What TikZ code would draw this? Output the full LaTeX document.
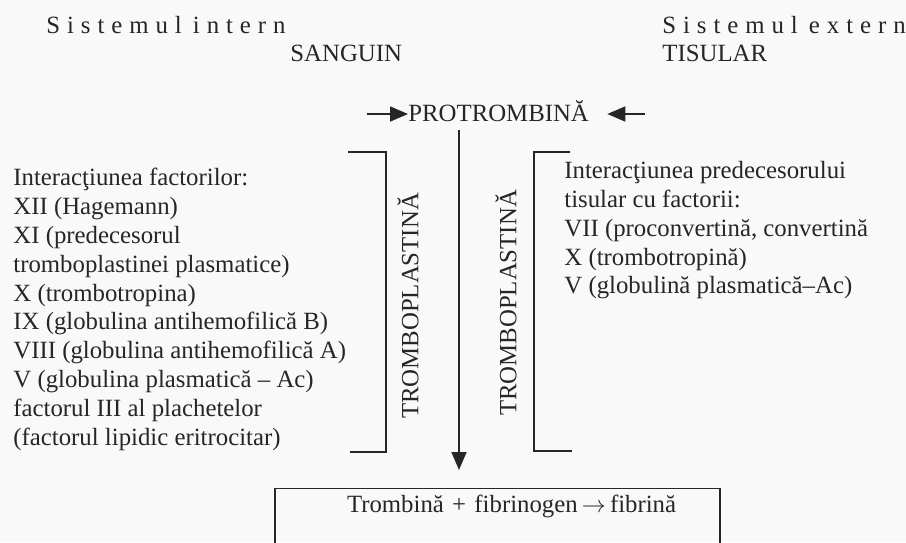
\documentclass[tikz,border=0pt]{standalone}
\usepackage{fontspec}
\setmainfont{Liberation Serif}
\newfontfamily\spacedfont[LetterSpace=28]{Liberation Serif}
\usetikzlibrary{arrows.meta}

\begin{document}
\begin{tikzpicture}[x=0.5pt, y=-0.5pt,
    font=\fontsize{12.4}{14.4}\selectfont,
    txt/.style={inner sep=0pt, align=left, text=black!85},
    arr/.style={line width=0.8pt, draw=black!85, -{Triangle[length=9pt,width=7.5pt]}},
    brk/.style={line width=0.7pt, draw=black!85}]
\fill[gray!5] (0,0) rectangle (906,542);
\useasboundingbox (0,0) rectangle (906,542);
% headers
\node[txt, anchor=base west] (sistint) at (46,33) {\spacedfont Sistemul\hspace{0.45em}intern};
\node[txt, anchor=base west] (sistext) at (662,33) {\spacedfont Sistemul\hspace{0.45em}extern};
\node[txt, anchor=base west] (sanguin) at (290,61) {SANGUIN};
\node[txt, anchor=base west] (tisular) at (662,61) {TISULAR};
\node[txt, anchor=base west] (protromb) at (408,121) {PROTROMBINĂ};
% left and right columns
\node[txt, anchor=north west] (intfact) at (13,168) {Interacţiunea factorilor:\\
XII (Hagemann)\\
XI (predecesorul\\
tromboplastinei plasmatice)\\
X (trombotropina)\\
IX (globulina antihemofilică B)\\
VIII (globulina antihemofilică A)\\
V (globulina plasmatică -- Ac)\\
factorul III al plachetelor\\
(factorul lipidic eritrocitar)};
\node[txt, anchor=north west] (extfact) at (564,161) {Interacţiunea predecesorului\\
tisular cu factorii:\\
VII (proconvertină, convertină\\
X (trombotropină)\\
V (globulină plasmatică--Ac)};
\node[txt, rotate=90] (tromint) at (408,306) {TROMBOPLASTINĂ};
\node[txt, rotate=90] (tromext) at (506,303) {TROMBOPLASTINĂ};
% brackets
\draw[brk] (348,152) -| (386,452) -- (350,452);
\draw[brk] (570,152) -| (534,451) -- (572,451);
% result
\node[draw=black!85, line width=0.7pt, anchor=north, inner sep=0pt, text width=222.5pt,
    align=left, text height=12pt, text depth=40pt, text=black!85] (final) at (497.5,488)
    {\hspace*{36pt}Trombină + fibrinogen\,$\rightarrow$\,fibrină};
% arrows
\coordinate (lin) at (367,114);
\coordinate (rin) at (645,114);
\coordinate (top) at (459,130);
\draw[arr] (lin) -- (protromb.west |- lin);
\draw[arr, shorten >=9pt] (rin) -- (protromb.east |- rin);
\draw[arr, shorten >=9pt] (top) -- (top |- final.north);
\end{tikzpicture}
\end{document}
